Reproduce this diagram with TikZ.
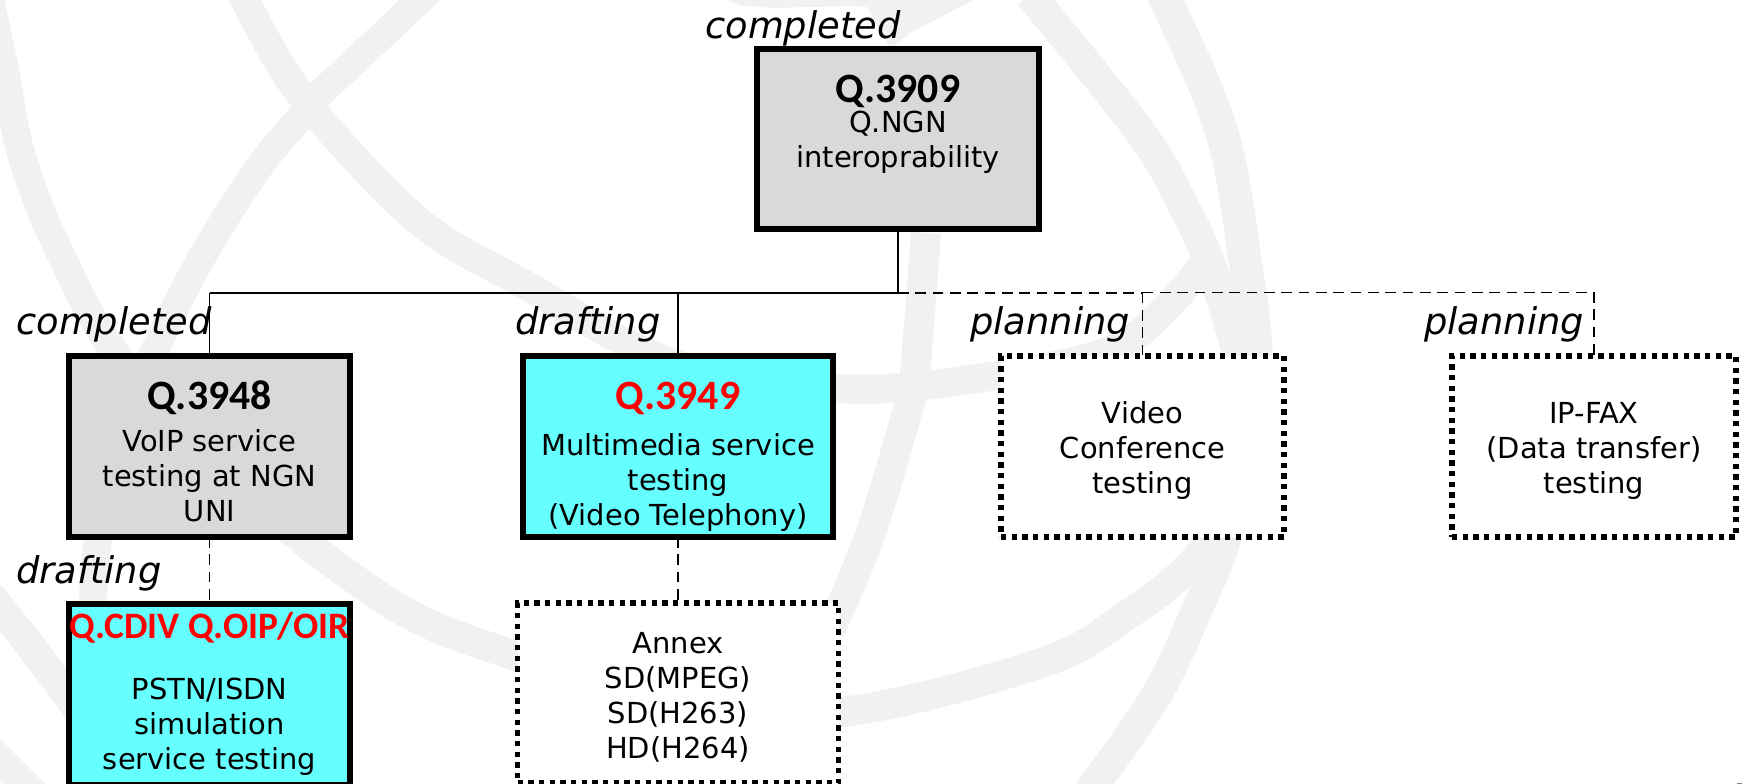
\documentclass[tikz,border=0pt]{standalone}
\usepackage{fontspec}
\setmainfont{DejaVu Sans}
\newfontfamily\titlefont{Carlito}[BoldFont={Carlito Bold}]
\definecolor{wm}{HTML}{F2F1F0}
\definecolor{boxgray}{HTML}{D9D9D9}
\definecolor{boxcyan}{HTML}{66FFFF}
\tikzset{
  wmband/.style={draw=wm,line width=#1*0.75pt,line cap=butt,line join=round},
  solidbox/.style={draw=black,line width=3.9pt,outer sep=0pt,inner sep=0pt,line join=miter},
  dotbox/.style={draw=black,fill=white,line width=4pt,dash pattern=on 4pt off 4pt,outer sep=0pt,inner sep=0pt},
  bodytext/.style={font=\fontsize{21.7}{26.25}\selectfont,align=center,inner sep=0pt,anchor=base,text=black},
  status/.style={font=\fontsize{27.6}{33}\selectfont\itshape,inner sep=0pt,anchor=base west},
  bigtitle/.style={font=\fontsize{31.3}{36}\selectfont\titlefont\bfseries,inner sep=0pt,anchor=base},
  wire/.style={draw=black,line width=1.15pt},
  buswire/.style={draw=black,line width=1.5pt},
  dashwire/.style={draw=black,line width=1.15pt,dash pattern=on 8pt off 5pt},
  dashbus/.style={draw=black,line width=1.5pt,dash pattern=on 8pt off 5pt},
}
\newcommand{\wmplot}[2]{\draw[wmband=#1] plot[smooth,tension=0.6] coordinates {#2};}
\begin{document}
\begin{tikzpicture}[x=0.75pt,y=-0.75pt]
\useasboundingbox (0,0) rectangle (1743,784);
\begin{scope}
\clip (0,0) rectangle (1743,784);
\fill[white] (0,0) rectangle (1743,784);
% watermark globe
\wmplot{28}{(-12,-10)(5,70)(16,133)(28,175)(54,240)(111,347)(210,465)(302,540)}
\wmplot{30}{(302,540)(405,612)(513,655)(680,705)(842,712)(1044,662)(1127,615)(1180,575)(1225,525)}
\wmplot{33}{(1240,470)(1252,420)(1256,350)(1246,267)(1222,133)(1166,0)(1150,-30)}
\wmplot{28}{(430,-10)(385,33)(320,94)(298,120)(257,170)(202,257)(155,350)(115,450)(98,540)(93,597)(90,680)}
\wmplot{29}{(240,-10)(290,80)(363,167)(433,232)(522,283)(678,365)(850,389)(1000,375)(1111,350)(1167,307)(1205,262)}
\wmplot{31}{(1030,-5)(1141,133)(1187,213)(1211,267)(1237,350)(1250,400)}
\wmplot{31}{(1246,440)(1225,540)(1199,605)(1157,694)(1095,784)(1075,812)}
\wmplot{30}{(926,233)(915,373)(909,405)(870,535)(830,630)}
\wmplot{30}{(-10,595)(63,689)(130,790)}
\wmplot{30}{(-10,750)(40,800)}
\fill[wm] (727,0) -- (740,5) -- (770,8) -- (850,6) -- (867,7) -- (890,48) -- (912,32) -- (973,0) -- cycle;
\fill[gray] (1737,782.5) rectangle (1742,784);
\end{scope}
% boxes
\node[solidbox,fill=boxgray,minimum width=282*0.75pt,minimum height=180*0.75pt] (q3909) at (898,139) {};
\node[solidbox,fill=boxgray,minimum width=281*0.75pt,minimum height=181*0.75pt] (q3948) at (209.5,446.5) {};
\node[solidbox,fill=boxcyan,minimum width=310*0.75pt,minimum height=181*0.75pt] (q3949) at (678,446.5) {};
\node[dotbox,minimum width=283*0.75pt,minimum height=181*0.75pt] (video) at (1142.5,446.5) {};
\node[dotbox,minimum width=284*0.75pt,minimum height=181*0.75pt] (ipfax) at (1594,446.5) {};
\node[solidbox,fill=boxcyan,minimum width=281*0.75pt,minimum height=181*0.75pt] (qcdiv) at (209.5,694.5) {};
\node[dotbox,minimum width=321*0.75pt,minimum height=180*0.75pt] (annex) at (678,693) {};
% connectors
\coordinate (jroot) at (898,292.7);
\coordinate (jleft) at (209.5,292.7);
\coordinate (jmid) at (678,292.7);
\coordinate (jvideo) at (1142.5,292.7);
\coordinate (jfax) at (1594,292.7);
\draw[wire] (q3909.south) -- (jroot);
\draw[buswire] (jroot) -- (jleft);
\draw[wire] (jleft) -- (q3948.north);
\draw[wire] (jmid) -- (q3949.north);
\draw[dashbus] (jroot) -- (jvideo);
\draw[dashwire] (jvideo) -- (jfax) -- (ipfax.north);
\draw[dashwire] (jvideo) -- (video.north);
\draw[dashwire] (q3948.south) -- (qcdiv.north);
\draw[dashwire] (q3949.south) -- (annex.north);
% status labels
\node[status] (s1) at (705,39) {completed};
\node[status] (s2) at (16,335) {completed};
\node[status] (s3) at (515,335) {drafting};
\node[status] (s4) at (970,335) {planning};
\node[status] (s5) at (1424,335) {planning};
\node[status] (s6) at (16,583) {drafting};
% titles
\node[bigtitle] (t1) at (898,103) {Q.3909};
\node[bigtitle] (t2) at (209.5,409) {Q.3948};
\node[bigtitle,text=red] (t3) at (678,409) {Q.3949};
\node[bigtitle,text=red,font=\fontsize{28}{32}\selectfont\titlefont\bfseries] (t4) at (209.5,638) {Q.CDIV Q.OIP/OIR};
% body texts
\node[bodytext] (b1) at (898,168) {Q.NGN\\interoprability};
\node[bodytext] (b2) at (209.5,521) {VoIP service\\testing at NGN\\UNI};
\node[bodytext] (b3) at (678,525) {Multimedia service\\testing\\(Video Telephony)};
\node[bodytext] (b4) at (1142.5,493) {Video\\Conference\\testing};
\node[bodytext] (b5) at (1594,493) {IP-FAX\\(Data transfer)\\testing};
\node[bodytext] (b6) at (209.5,769) {PSTN/ISDN\\simulation\\service testing};
\node[bodytext] (b7) at (678,758) {Annex\\SD(MPEG)\\SD(H263)\\HD(H264)};
\end{tikzpicture}
\end{document}
